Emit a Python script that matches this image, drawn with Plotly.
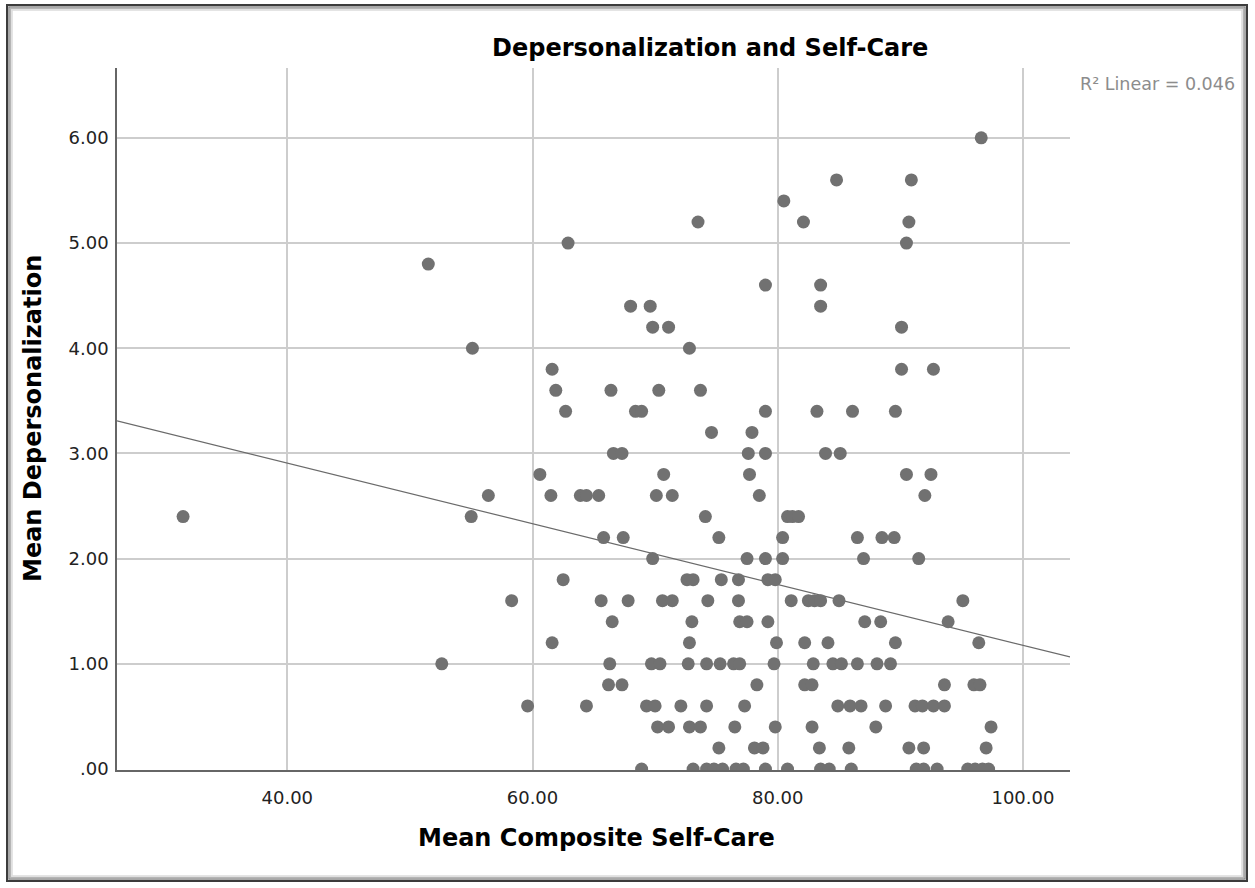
import plotly.graph_objects as go

# Mean composite self-care score (x) and mean depersonalization score (y), one entry per respondent
self_care = [
    96.6,
    84.8, 90.9,
    80.5,
    73.5, 82.1, 90.7,
    62.9, 90.5,
    51.5,
    79.0, 83.5,
    68.0, 69.6, 83.5,
    69.8, 71.1, 90.1,
    55.1, 72.8,
    61.6, 90.1, 92.7,
    61.9, 66.4, 70.3, 73.7,
    62.7, 68.4, 68.9, 79.0, 83.2, 86.1, 89.6,
    74.6, 77.9,
    66.6, 67.3, 77.6, 79.0, 83.9, 85.1,
    60.6, 70.7, 77.7, 90.5, 92.5,
    56.4, 61.5, 63.9, 64.4, 65.4, 70.1, 71.4, 78.5, 92.0,
    31.5, 55.0, 74.1, 80.8, 81.2, 81.7,
    65.8, 67.4, 75.2, 80.4, 86.5, 88.5, 89.5,
    69.8, 77.5, 79.0, 80.4, 87.0, 91.5,
    62.5, 72.6, 73.1, 75.4, 76.8, 79.2, 79.8,
    58.3, 65.6, 67.8, 70.6, 71.4, 74.3, 76.8, 81.1, 82.5, 83.0, 83.5, 85.0, 95.1,
    66.5, 73.0, 76.9, 77.5, 79.2, 87.1, 88.4, 93.9,
    61.6, 72.8, 79.9, 82.2, 84.1, 89.6, 96.4,
    52.6, 66.3, 69.7, 70.4, 72.7, 74.2, 75.3, 76.4, 76.9, 79.7, 82.9, 84.5, 85.2, 86.5, 88.1, 89.2,
    66.2, 67.3, 78.3, 82.2, 82.8, 93.6, 96.0, 96.5,
    59.6, 64.4, 69.3, 70.0, 72.1, 74.2, 77.3, 84.9, 85.9, 86.8, 88.8, 91.2, 91.8, 92.7, 93.6,
    70.2, 71.1, 72.8, 73.7, 76.5, 79.8, 82.8, 88.0, 97.4,
    75.2, 78.1, 78.8, 83.4, 85.8, 90.7, 91.9, 97.0,
    68.9, 73.1, 74.2, 74.8, 75.5, 76.6, 77.2, 79.0, 80.8, 83.5, 84.2, 86.0, 91.3, 91.9, 93.0,
    95.5, 96.1, 96.7, 97.2,
]
depersonalization = [
    6.0,
    5.6, 5.6,
    5.4,
    5.2, 5.2, 5.2,
    5.0, 5.0,
    4.8,
    4.6, 4.6,
    4.4, 4.4, 4.4,
    4.2, 4.2, 4.2,
    4.0, 4.0,
    3.8, 3.8, 3.8,
    3.6, 3.6, 3.6, 3.6,
    3.4, 3.4, 3.4, 3.4, 3.4, 3.4, 3.4,
    3.2, 3.2,
    3.0, 3.0, 3.0, 3.0, 3.0, 3.0,
    2.8, 2.8, 2.8, 2.8, 2.8,
    2.6, 2.6, 2.6, 2.6, 2.6, 2.6, 2.6, 2.6, 2.6,
    2.4, 2.4, 2.4, 2.4, 2.4, 2.4,
    2.2, 2.2, 2.2, 2.2, 2.2, 2.2, 2.2,
    2.0, 2.0, 2.0, 2.0, 2.0, 2.0,
    1.8, 1.8, 1.8, 1.8, 1.8, 1.8, 1.8,
    1.6, 1.6, 1.6, 1.6, 1.6, 1.6, 1.6, 1.6, 1.6, 1.6, 1.6, 1.6, 1.6,
    1.4, 1.4, 1.4, 1.4, 1.4, 1.4, 1.4, 1.4,
    1.2, 1.2, 1.2, 1.2, 1.2, 1.2, 1.2,
    1.0, 1.0, 1.0, 1.0, 1.0, 1.0, 1.0, 1.0, 1.0, 1.0, 1.0, 1.0, 1.0, 1.0, 1.0, 1.0,
    0.8, 0.8, 0.8, 0.8, 0.8, 0.8, 0.8, 0.8,
    0.6, 0.6, 0.6, 0.6, 0.6, 0.6, 0.6, 0.6, 0.6, 0.6, 0.6, 0.6, 0.6, 0.6, 0.6,
    0.4, 0.4, 0.4, 0.4, 0.4, 0.4, 0.4, 0.4, 0.4,
    0.2, 0.2, 0.2, 0.2, 0.2, 0.2, 0.2, 0.2,
    0.0, 0.0, 0.0, 0.0, 0.0, 0.0, 0.0, 0.0, 0.0, 0.0, 0.0, 0.0, 0.0, 0.0, 0.0,
    0.0, 0.0, 0.0, 0.0,
]

# Linear fit reported with the chart (R² = 0.046)
fit_intercept = 4.064
fit_slope = -0.02888
r2_label = "R² Linear = 0.046"

x_tick_values = [40, 60, 80, 100]
x_tick_labels = ["40.00", "60.00", "80.00", "100.00"]
y_tick_values = [0, 1, 2, 3, 4, 5, 6]
y_tick_labels = [".00", "1.00", "2.00", "3.00", "4.00", "5.00", "6.00"]

X_RANGE = [26.11, 103.84]
Y_RANGE = [-0.0095, 6.664]

W, H = 1255, 888
M_L, M_R, M_T, M_B = 117, 185, 68, 118
PLOT_W = W - M_L - M_R
PLOT_H = H - M_T - M_B


def px_x(p):
    """Horizontal page pixel -> paper coordinate."""
    return (p - M_L) / PLOT_W


def px_y(p):
    """Vertical page pixel (from top) -> paper coordinate."""
    return (H - M_B - p) / PLOT_H


fit_x = list(X_RANGE)
fit_y = [fit_intercept + fit_slope * v for v in fit_x]

fig = go.Figure()
fig.add_trace(go.Scatter(
    x=fit_x, y=fit_y, mode="lines",
    line=dict(color="#6a6a6a", width=1.2),
    hoverinfo="skip", showlegend=False,
))
fig.add_trace(go.Scatter(
    x=self_care, y=depersonalization, mode="markers",
    marker=dict(size=13, color="#717171", line=dict(width=0)),
    showlegend=False,
))

DARK = "#222222"
fig.update_layout(
    width=W, height=H,
    margin=dict(l=M_L, r=M_R, t=M_T, b=M_B, pad=0),
    paper_bgcolor="white", plot_bgcolor="white",
    font=dict(family="DejaVu Sans", size=18, color=DARK),
    showlegend=False,
)
fig.update_xaxes(
    range=X_RANGE, tickvals=x_tick_values, ticktext=x_tick_labels,
    showgrid=True, gridcolor="#cdcdcd", gridwidth=1.5,
    zeroline=False, showline=True, linecolor="#666666", linewidth=1.5,
    ticks="", ticklabelstandoff=11, tickfont=dict(size=18, color=DARK),
)
fig.update_yaxes(
    range=Y_RANGE, tickvals=y_tick_values, ticktext=y_tick_labels,
    showgrid=True, gridcolor="#cdcdcd", gridwidth=1.5,
    zeroline=False, showline=True, linecolor="#666666", linewidth=1.5,
    ticks="", ticklabelstandoff=3, tickfont=dict(size=18, color=DARK),
)

bold = dict(family="DejaVu Sans", size=24, color="#000000", weight="bold")
fig.add_annotation(
    text="Depersonalization and Self-Care", xref="paper", yref="paper",
    x=px_x(710), y=px_y(48), xanchor="center", yanchor="middle",
    showarrow=False, font=bold,
)
fig.add_annotation(
    text="Mean Composite Self-Care", xref="paper", yref="paper",
    x=px_x(596), y=px_y(838), xanchor="center", yanchor="middle",
    showarrow=False, font=bold,
)
fig.add_annotation(
    text="Mean Depersonalization", xref="paper", yref="paper",
    x=px_x(33), y=px_y(419), xanchor="center", yanchor="middle",
    textangle=-90, showarrow=False, font=bold,
)
fig.add_annotation(
    text=r2_label, xref="paper", yref="paper",
    x=px_x(1078), y=px_y(84), xanchor="left", yanchor="middle",
    showarrow=False, font=dict(family="DejaVu Sans", size=17.5, color="#8c8c8c"),
)

# Window frame with a soft inner shadow
frame = [(0, "#3c3c3c", 2), (2, "#8a8a8a", 1.5), (3.5, "#b5b5b5", 1.5), (5, "#dcdcdc", 1.5)]
for inset, colour, width in frame:
    fig.add_shape(
        type="rect", xref="paper", yref="paper",
        x0=px_x(7 + inset), x1=px_x(1247 - inset),
        y0=px_y(881 - inset), y1=px_y(5 + inset),
        line=dict(color=colour, width=width), fillcolor="rgba(0,0,0,0)",
        layer="above",
    )

fig.write_html("out.html")
